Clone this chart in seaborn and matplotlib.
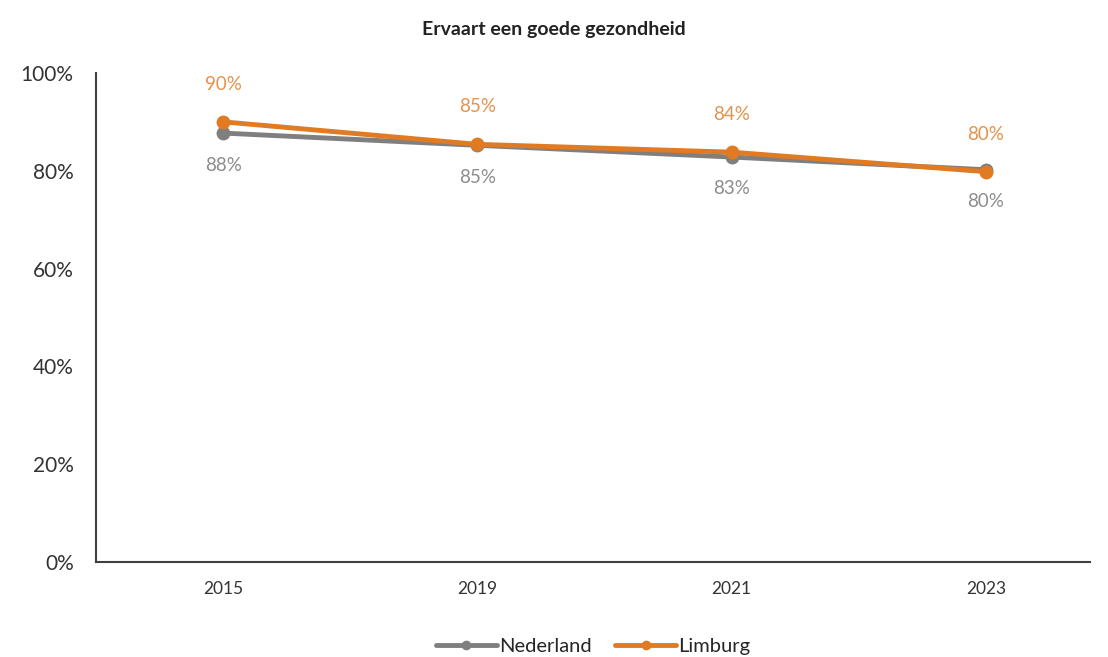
import pandas as pd
import matplotlib.pyplot as plt
import seaborn as sns

years = ['2015', '2019', '2021', '2023']
nederland = [87.7, 85.2, 82.8, 80.2]
limburg = [90.0, 85.4, 83.8, 79.8]
nederland_labels = ['88%', '85%', '83%', '80%']
limburg_labels = ['90%', '85%', '84%', '80%']

df = pd.DataFrame({
    'jaar': years * 2,
    'waarde': nederland + limburg,
    'regio': ['Nederland'] * 4 + ['Limburg'] * 4,
})

sns.set_theme(style="white")
plt.rcParams['font.family'] = ['Lato', 'DejaVu Sans']

fig = plt.figure(figsize=(11.08, 6.57), dpi=100)
ax = fig.add_axes([0.0866, 0.1446, 0.8974, 0.7444])

colors = {'Nederland': '#7f7f7f', 'Limburg': '#e07b24'}
sns.lineplot(data=df, x='jaar', y='waarde', hue='regio', palette=colors,
             marker='o', markersize=10, linewidth=3.5, markeredgewidth=0,
             sort=False, ax=ax)

for i in range(len(years)):
    ax.annotate(nederland_labels[i], (i, nederland[i]), xytext=(0, -23),
                textcoords='offset points', ha='center', va='center',
                fontsize=13.5, color='#8c8c8c')
    ax.annotate(limburg_labels[i], (i, limburg[i]), xytext=(0, 27),
                textcoords='offset points', ha='center', va='center',
                fontsize=13.5, color='#e3924c')

ax.set_ylim(0, 100)
ax.set_xlim(-0.5, 3.41)
ax.set_yticks([0, 20, 40, 60, 80, 100])
ax.set_yticklabels([f'{v}%' for v in [0, 20, 40, 60, 80, 100]])
ax.tick_params(axis='y', labelsize=15, colors='#333333', length=0, pad=16)
ax.tick_params(axis='x', labelsize=12.5, colors='#333333', length=0, pad=14)
ax.set_xlabel('')
ax.set_ylabel('')

for side in ['top', 'right']:
    ax.spines[side].set_visible(False)
for side in ['left', 'bottom']:
    ax.spines[side].set_color('#404040')
    ax.spines[side].set_linewidth(1.5)

fig.suptitle('Ervaart een goede gezondheid', fontsize=14, fontweight='bold',
             color='#222222', y=0.968)

ax.legend(loc='lower center', bbox_to_anchor=(0.5, -0.228), ncol=2,
          frameon=False, fontsize=14.5, handlelength=3.0, columnspacing=1.2,
          handletextpad=0.1, markerscale=0.7)

plt.savefig('out.png', dpi=100)
